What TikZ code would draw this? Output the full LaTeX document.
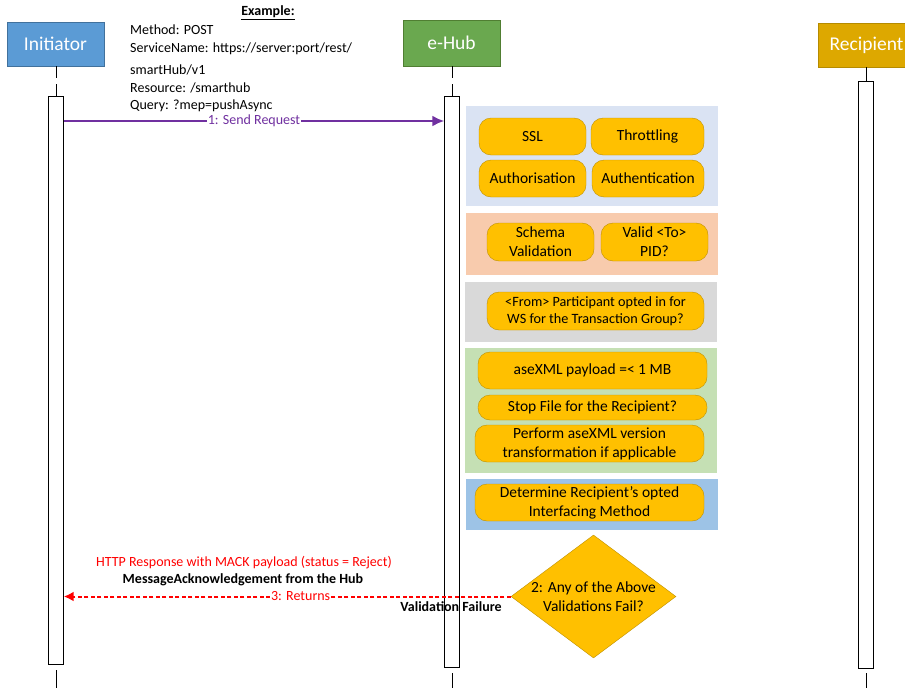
\documentclass[tikz,border=0pt]{standalone}
\usepackage{fontspec}
\setmainfont{Carlito}
\usepackage{tikz}
\usetikzlibrary{arrows.meta,shapes}

\definecolor{initFill}{HTML}{5B9BD5}
\definecolor{initEdge}{HTML}{41719C}
\definecolor{hubFill}{HTML}{6AA84F}
\definecolor{hubEdge}{HTML}{507E32}
\definecolor{recFill}{HTML}{DDA800}
\definecolor{recEdge}{HTML}{B58B00}
\definecolor{stepFill}{HTML}{FFC000}
\definecolor{stepEdge}{HTML}{BF9000}
\definecolor{groupA}{HTML}{DAE3F3}
\definecolor{groupB}{HTML}{F8CBAD}
\definecolor{groupC}{HTML}{D9D9D9}
\definecolor{groupD}{HTML}{C5E0B4}
\definecolor{groupE}{HTML}{9DC3E6}
\definecolor{reqColor}{HTML}{7030A0}

\begin{document}
\begin{tikzpicture}[x=1pt,y=-1pt,>={Latex[length=12pt,width=11pt]},
        actor/.style={draw,minimum width=97pt,minimum height=44pt,text=white,
                      font=\fontsize{19.5}{22}\selectfont},
        activation/.style={draw=black,fill=white,minimum width=15pt,inner sep=0pt},
        group/.style={minimum width=252pt,inner sep=0pt},
        check/.style={draw=stepEdge,fill=stepFill,rounded corners=12pt,align=center,
                      inner sep=0pt,font=\fontsize{15.5}{19}\selectfont},
        lifeline/.style={thick,dash pattern=on 12pt off 6pt},
        msg/.style={font=\fontsize{14}{17.5}\selectfont}]
        \useasboundingbox (0,0) rectangle (905,688);

        % the actors
        \node[actor,fill=initFill,draw=initEdge] (initiator) at (55.5,44) {Initiator};
        \node[actor,fill=hubFill,draw=hubEdge,minimum height=46pt] (hub) at (451.5,43) {e-Hub};
        \node[actor,fill=recFill,draw=recEdge] (recipient) at (866.5,45) {Recipient};

        % the activation bars
        \node[activation,minimum height=568pt] (initAct) at (56,380) {};
        \node[activation,minimum height=571pt] (hubAct) at (452,381.5) {};
        \node[activation,minimum height=587pt] (recAct) at (866,374.5) {};

        % lifelines
        \coordinate (bottom) at (0,688);
        \draw[lifeline] (initAct.north |- initiator.south) -- (initAct.north);
        \draw[lifeline] (hubAct.north |- hub.south) -- (hubAct.north);
        \draw[thick] (recAct.north |- recipient.south) -- (recAct.north);
        \draw[thick,dash pattern=on 0pt off 6pt on 30pt] (initAct.south) -- (initAct.south |- bottom);
        \draw[thick,dash pattern=on 0pt off 6pt on 30pt] (hubAct.south) -- (hubAct.south |- bottom);
        \draw[thick,dash pattern=on 0pt off 5pt on 30pt] (recAct.south) -- (recAct.south |- bottom);

        % the request
        \node[font=\bfseries\fontsize{14}{16}\selectfont] (example) at (268,13) {\underline{Example:}};
        \node[msg,anchor=north west,align=left,inner sep=0pt] (params) at (130,25)
            {Method: POST\\ServiceName: https://server:port/rest/\\[5pt]smartHub/v1\\Resource: /smarthub\\Query: ?mep=pushAsync};
        \coordinate (req) at (250,121);
        \draw[->,reqColor,line width=2.2pt] (initAct.east |- req) -- (hubAct.west |- req)
            node[midway,fill=white,inner sep=1pt,msg] {1: Send Request};

        % the checks done by the hub
        \node[group,fill=groupA,minimum height=100pt] (security) at (592,156) {};
        \node[group,fill=groupB,minimum height=62pt] (schema) at (592,244) {};
        \node[group,fill=groupC,minimum height=60pt] (participant) at (591,312) {};
        \node[group,fill=groupD,minimum height=125pt] (payload) at (591,410.5) {};
        \node[group,fill=groupE,minimum height=51pt] (interfacing) at (592,504.5) {};

        \node[check,minimum width=107pt,minimum height=37pt] (ssl) at (532.5,136.5) {SSL};
        \node[check,minimum width=113pt,minimum height=37pt] (throttling) at (647.5,136.5) {Throttling};
        \node[check,minimum width=107pt,minimum height=37pt] (authorisation) at (532.5,178.5) {Authorisation};
        \node[check,minimum width=112pt,minimum height=37pt] (authentication) at (648,178.5) {Authentication};
        \node[check,minimum width=107pt,minimum height=38pt] (schemaCheck) at (540.5,242) {Schema\\Validation};
        \node[check,minimum width=107pt,minimum height=38pt] (pidCheck) at (654.5,242) {Valid <To>\\PID?};
        \node[check,minimum width=217pt,minimum height=38pt,font=\fontsize{14.2}{17}\selectfont] (optedIn) at (595.5,311)
            {<From> Participant opted in for\\WS for the Transaction Group?};
        \node[check,minimum width=229pt,minimum height=37pt] (sizeCheck) at (592.5,370.5) {aseXML payload =< 1 MB};
        \node[check,minimum width=229pt,minimum height=25pt] (stopFile) at (592.5,407.5) {Stop File for the Recipient?};
        \node[check,minimum width=229pt,minimum height=37pt] (transform) at (589.5,443.5)
            {Perform aseXML version\\transformation if applicable};
        \node[check,minimum width=229pt,minimum height=37pt] (method) at (589.5,502.5)
            {Determine Recipient’s opted\\Interfacing Method};

        % the decision and the reply
        \node[diamond,draw=stepEdge,fill=stepFill,minimum width=165pt,minimum height=123pt,inner sep=0pt] (fail) at (593.5,596.5) {};
        \node[align=center,font=\fontsize{15.5}{19}\selectfont] (failText) at (fail) {2: Any of the Above\\Validations Fail?};
        \draw[->,red,line width=2pt,dash pattern=on 4pt off 2.5pt,>={Latex[length=10pt,width=10pt]}]
            (fail.west) -- (fail.west -| initAct.east)
            node[pos=0.47,fill=white,inner sep=1pt,msg] {3: Returns};
        \node[msg,text=red] (httpResp) at (244,563) {HTTP Response with MACK payload (status = Reject)};
        \node[font=\bfseries\fontsize{14}{16}\selectfont] (mack) at (243,580) {MessageAcknowledgement from the Hub};
        \node[font=\bfseries\fontsize{14}{16}\selectfont] (valFail) at (451,607) {Validation Failure};
\end{tikzpicture}
\end{document}
